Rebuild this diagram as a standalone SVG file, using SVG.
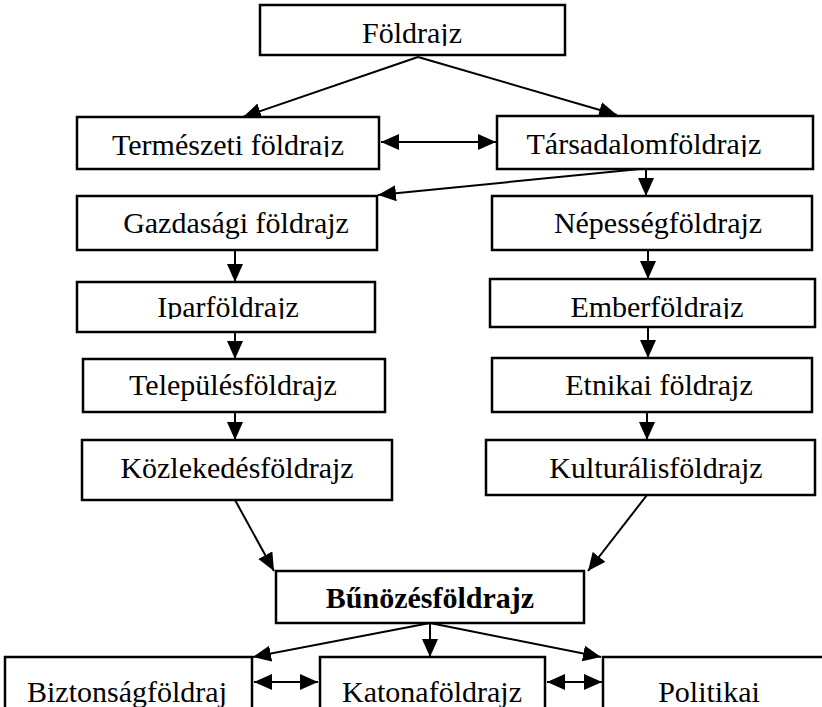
<svg xmlns="http://www.w3.org/2000/svg" width="822" height="707" viewBox="0 0 822 707">
<style>
.box{fill:#fff;stroke:#000;stroke-width:2.5}
.t{font-family:"Liberation Serif","Times New Roman",serif;font-size:30px;fill:#000;text-anchor:middle}
.b{font-weight:bold}
.c line{stroke:#000;stroke-width:2;fill:none}
</style>
<defs>
<marker id="ah" markerUnits="userSpaceOnUse" markerWidth="19" markerHeight="17" refX="18" refY="8" orient="auto-start-reverse">
<path d="M0,0 L18,8 L0,16 z" fill="#000"/>
</marker>
<clipPath id="c1"><rect x="0" y="0" width="822" height="46"/></clipPath>
<clipPath id="c2"><rect x="0" y="0" width="822" height="157"/></clipPath>
<clipPath id="c3"><rect x="0" y="0" width="822" height="319"/></clipPath>
</defs>
<rect width="822" height="707" fill="#fff"/>
<g class="c">
<line x1="418" y1="57" x2="243" y2="117" marker-end="url(#ah)"/>
<line x1="418" y1="57" x2="617" y2="115" marker-end="url(#ah)"/>
<line x1="381" y1="142" x2="496" y2="142" marker-start="url(#ah)" marker-end="url(#ah)"/>
<line x1="640" y1="169" x2="378" y2="195" marker-end="url(#ah)"/>
<line x1="646" y1="169" x2="646" y2="196" marker-end="url(#ah)"/>
<line x1="235" y1="250" x2="235" y2="282" marker-end="url(#ah)"/>
<line x1="235" y1="332" x2="235" y2="359" marker-end="url(#ah)"/>
<line x1="235" y1="412" x2="235" y2="440" marker-end="url(#ah)"/>
<line x1="648" y1="250" x2="648" y2="279" marker-end="url(#ah)"/>
<line x1="648" y1="327" x2="648" y2="358" marker-end="url(#ah)"/>
<line x1="647" y1="412" x2="647" y2="440" marker-end="url(#ah)"/>
<line x1="235" y1="500" x2="274" y2="571" marker-end="url(#ah)"/>
<line x1="647" y1="495" x2="588" y2="571" marker-end="url(#ah)"/>
<line x1="430" y1="623" x2="253" y2="657" marker-end="url(#ah)"/>
<line x1="430" y1="623" x2="430" y2="657" marker-end="url(#ah)"/>
<line x1="430" y1="623" x2="601" y2="657" marker-end="url(#ah)"/>
<line x1="254" y1="682" x2="318" y2="682" marker-start="url(#ah)" marker-end="url(#ah)"/>
<line x1="547" y1="682" x2="602" y2="682" marker-start="url(#ah)" marker-end="url(#ah)"/>
</g>
<g id="foldrajz"><rect class="box" x="260" y="5" width="305" height="50"/><text class="t" x="412" y="43" clip-path="url(#c1)">Földrajz</text></g>
<g id="termeszeti"><rect class="box" x="77" y="117" width="302" height="52"/><text class="t" x="228" y="155" clip-path="url(#c2)">Természeti földrajz</text></g>
<g id="tarsadalom"><rect class="box" x="497" y="116" width="316" height="53"/><text class="t" x="644" y="154" clip-path="url(#c2)">Társadalomföldrajz</text></g>
<g id="gazdasagi"><rect class="box" x="77" y="196" width="300" height="54"/><text class="t" x="236" y="233">Gazdasági földrajz</text></g>
<g id="nepesseg"><rect class="box" x="492" y="196" width="320" height="54"/><text class="t" x="658" y="233">Népességföldrajz</text></g>
<g id="ipar"><rect class="box" x="77" y="282" width="298" height="50"/><text class="t" x="228" y="317" clip-path="url(#c3)">Iparföldrajz</text></g>
<g id="ember"><rect class="box" x="490" y="279" width="325" height="48"/><text class="t" x="657" y="317" clip-path="url(#c3)">Emberföldrajz</text></g>
<g id="telepules"><rect class="box" x="83" y="359" width="302" height="53"/><text class="t" x="233" y="395">Településföldrajz</text></g>
<g id="etnikai"><rect class="box" x="492" y="358" width="320" height="54"/><text class="t" x="659" y="395">Etnikai földrajz</text></g>
<g id="kozlekedes"><rect class="box" x="82" y="440" width="310" height="60"/><text class="t" x="237" y="478">Közlekedésföldrajz</text></g>
<g id="kulturalis"><rect class="box" x="486" y="440" width="329" height="55"/><text class="t" x="656" y="478">Kulturálisföldrajz</text></g>
<g id="bunozes"><rect class="box" x="276" y="571" width="308" height="52"/><text class="t b" x="430" y="608">Bűnözésföldrajz</text></g>
<g id="biztonsag"><rect class="box" x="5" y="657" width="247" height="70"/><text class="t" x="127" y="702">Biztonságföldraj</text></g>
<g id="katona"><rect class="box" x="320" y="657" width="225" height="70"/><text class="t" x="432" y="702">Katonaföldrajz</text></g>
<g id="politikai"><rect class="box" x="603" y="657" width="230" height="70"/><text class="t" x="709" y="702">Politikai</text></g>
</svg>
